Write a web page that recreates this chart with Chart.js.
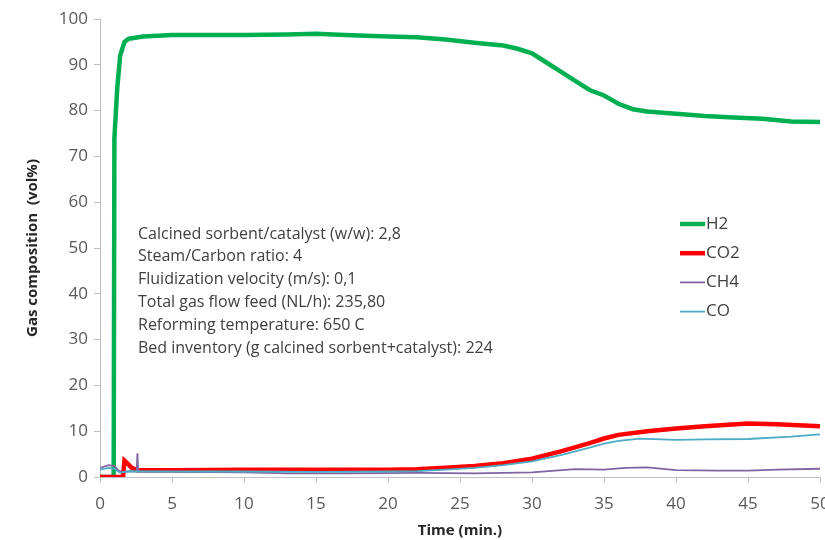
<!DOCTYPE html>
<html>
<head>
<meta charset="utf-8">
<script src="https://cdn.jsdelivr.net/npm/chart.js@4.4.1/dist/chart.umd.min.js"></script>
<style>
  html, body { margin: 0; padding: 0; background: #fff; }
  #wrap { width: 825px; height: 540px; }
</style>
</head>
<body>
<div id="wrap"><canvas id="gasChart" width="825" height="540"></canvas></div>
<script>
// data: [time (min), vol%]
const seriesNames = ['H2', 'CO2', 'CH4', 'CO'];
const seriesColors = ['#00b050', '#ff0000', '#8064a2', '#4bacc6'];
const seriesWidths = [4.5, 4.5, 1.8, 1.8];

const h2Data = [
  [0, 0], [0.95, 0], [1.0, 74], [1.2, 85], [1.4, 92], [1.7, 95], [2, 95.7], [3, 96.2],
  [5, 96.5], [8, 96.5], [10, 96.5], [13, 96.6], [15, 96.8], [17, 96.5], [20, 96.2],
  [22, 96], [24, 95.5], [26, 94.8], [28, 94.2], [29, 93.5], [30, 92.5], [31, 90.5],
  [32, 88.5], [33, 86.5], [34, 84.5], [35, 83.3], [36, 81.5], [37, 80.3], [38, 79.8],
  [40, 79.3], [42, 78.8], [44, 78.5], [46, 78.2], [48, 77.6], [50, 77.5]
];
const co2Data = [
  [0, 0], [1.6, 0], [1.7, 3.6], [1.9, 3.0], [2.2, 2.0], [2.6, 1.5], [5, 1.5], [10, 1.6],
  [15, 1.6], [20, 1.6], [22, 1.7], [24, 2.0], [26, 2.4], [28, 3.0], [30, 4.0], [32, 5.6],
  [34, 7.4], [35, 8.4], [36, 9.2], [38, 10.0], [40, 10.6], [42, 11.1], [45, 11.7],
  [47, 11.5], [50, 11.1]
];
const ch4Data = [
  [0, 2.0], [0.6, 2.6], [1.0, 2.4], [1.3, 1.4], [1.6, 1.0], [2.0, 1.3], [2.55, 1.2],
  [2.6, 5.2], [2.65, 1.2], [5, 1.1], [10, 1.0], [13, 0.8], [17, 0.8], [22, 0.9],
  [26, 0.8], [30, 1.0], [33, 1.7], [35, 1.6], [36.5, 2.0], [38, 2.1], [40, 1.5],
  [43, 1.4], [45, 1.4], [47, 1.6], [50, 1.8]
];
const coData = [
  [0, 1.6], [0.6, 2.0], [1.0, 1.8], [1.4, 0.9], [1.8, 1.2], [3, 1.2], [10, 1.2],
  [15, 1.1], [20, 1.2], [22, 1.3], [24, 1.6], [26, 2.0], [28, 2.6], [30, 3.4],
  [32, 4.8], [34, 6.4], [35, 7.3], [36, 7.9], [37.5, 8.4], [40, 8.1], [42, 8.2],
  [45, 8.3], [48, 8.8], [50, 9.3]
];
const allSeries = [h2Data, co2Data, ch4Data, coData];

const noteLines = [
  'Calcined sorbent/catalyst (w/w): 2,8',
  'Steam/Carbon ratio: 4',
  'Fluidization velocity (m/s): 0,1',
  'Total gas flow feed (NL/h): 235,80',
  'Reforming temperature: 650 C',
  'Bed inventory (g calcined sorbent+catalyst): 224'
];

const xTicks = { min: 0, max: 50, step: 5 };
const yTicks = { min: 0, max: 100, step: 10 };

const fontFam = '"Open Sans", "Liberation Sans", sans-serif';
const textGrey = '#404040';

// legend + notes drawn inside the plot area
const insidePlugin = {
  id: 'insideText',
  afterDraw(chart) {
    const ctx = chart.ctx;
    ctx.save();
    ctx.font = '16px ' + fontFam;
    ctx.fillStyle = textGrey;
    ctx.textBaseline = 'middle';
    noteLines.forEach((t, i) => {
      ctx.fillText(t, 138, 234 + i * 22.9);
    });
    ctx.font = '17px ' + fontFam;
    chart.data.datasets.forEach((ds, i) => {
      const y = 224 + i * 29.2;
      ctx.strokeStyle = ds.borderColor;
      ctx.lineWidth = ds.borderWidth;
      ctx.beginPath();
      ctx.moveTo(680, y);
      ctx.lineTo(705, y);
      ctx.stroke();
      ctx.fillStyle = textGrey;
      ctx.fillText(ds.label, 706, y);
    });
    ctx.restore();
  }
};

const ctx = document.getElementById('gasChart').getContext('2d');
const gasChart = new Chart(ctx, {
  type: 'scatter',
  data: {
    datasets: seriesNames.map((name, i) => ({
      label: name,
      data: allSeries[i].map(p => ({ x: p[0], y: p[1] })),
      showLine: true,
      borderColor: seriesColors[i],
      backgroundColor: seriesColors[i],
      borderWidth: seriesWidths[i],
      pointRadius: 0,
      tension: 0,
      order: 4 - i
    }))
  },
  options: {
    responsive: false,
    animation: false,
    layout: { padding: { top: 19, right: 5, left: 20, bottom: 0 } },
    plugins: {
      legend: { display: false },
      tooltip: { enabled: false }
    },
    scales: {
      x: {
        type: 'linear',
        min: xTicks.min,
        max: xTicks.max,
        ticks: { stepSize: xTicks.step, color: '#595959', font: { size: 17, family: fontFam }, padding: 11 },
        grid: { drawOnChartArea: false, drawTicks: true, tickLength: 6, color: '#bfbfbf' },
        border: { color: '#bfbfbf' },
        title: { display: true, text: 'Time (min.)', color: '#262626', font: { size: 15, weight: 'bold', family: fontFam }, padding: { top: 0, bottom: 0 } },
        afterFit(scale) {
          scale.height = 63;
          scale.paddingRight = 0;
          scale.paddingLeft = 0;
        }
      },
      y: {
        min: yTicks.min,
        max: yTicks.max,
        ticks: { stepSize: yTicks.step, color: '#595959', font: { size: 17, family: fontFam }, padding: 6 },
        grid: { drawOnChartArea: false, drawTicks: true, tickLength: 6, color: '#bfbfbf' },
        border: { color: '#bfbfbf' },
        title: { display: true, text: 'Gas composition  (vol%)', color: '#262626', font: { size: 15, weight: 'bold', family: fontFam }, padding: { top: 4, bottom: 0 } },
        afterFit(scale) {
          scale.width = 80;
          scale.paddingTop = 0;
          scale.paddingBottom = 0;
        }
      }
    }
  },
  plugins: [insidePlugin]
});
</script>
</body>
</html>
